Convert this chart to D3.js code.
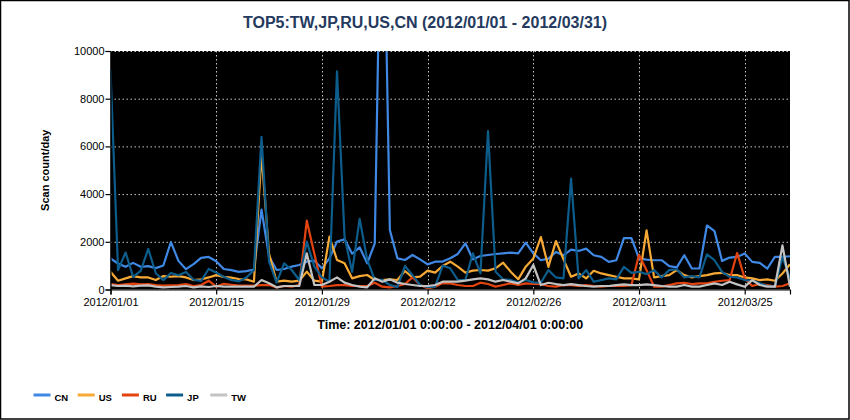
<!DOCTYPE html>
<html>
<head>
<meta charset="utf-8">
<script src="https://d3js.org/d3.v7.min.js"></script>
<style>
  body { margin: 0; background: #fff; }
  text { font-family: "Liberation Sans", Arial, sans-serif; }
</style>
</head>
<body>
<script>
// countries, in legend order
var countries = ["CN", "US", "RU", "JP", "TW"];
var colors = ["#3f88e3", "#f7a935", "#e2430f", "#0c5c8c", "#c3c3c3"];

// one value per day, 2012/01/01 .. 2012/03/31
var cnValues = [1300, 1090, 950, 1116, 950, 978, 895, 1005, 1990, 1200,
  853, 1061, 1325, 1366, 1186, 860, 811, 742, 770, 839,
  3350, 1377, 818, 860, 958, 1027, 1167, 1209, 888, 1307,
  2006, 2104, 1500, 1768, 1097, 1936, 20000, 2495, 1307, 1237,
  1447, 1265, 1055, 1167, 1170, 1307, 1489, 1936, 1265, 1405,
  1447, 1489, 1517, 1545, 1517, 1964, 1517, 1227, 1297, 1574,
  1435, 1671, 1616, 1713, 1435, 1366, 1158, 1227, 2157, 2157,
  1297, 1255, 1227, 1227, 978, 930, 1435, 880, 880, 2684,
  2448, 1200, 1338, 1366, 1505, 1158, 1116, 880, 1366, 1366, 1394];

var usValues = [742, 368, 465, 562, 506, 506, 395, 562, 534, 562,
  506, 395, 423, 506, 603, 530, 500, 440, 423, 326,
  5700, 1500, 328, 370, 328, 370, 748, 370, 328, 2215,
  1237, 1097, 468, 563, 608, 398, 398, 426, 398, 776,
  510, 538, 790, 706, 990, 1167, 958, 706, 790, 818,
  790, 888, 1125, 748, 426, 958, 1300, 2198, 950, 2032,
  1260, 534, 673, 465, 784, 673, 603, 534, 465, 465,
  423, 2476, 506, 562, 603, 811, 603, 506, 562, 603,
  673, 700, 603, 603, 506, 465, 395, 423, 368, 673, 1061];

var ruValues = [229, 187, 215, 243, 215, 229, 187, 160, 173, 187,
  229, 146, 187, 368, 118, 240, 200, 160, 160, 160,
  187, 187, 91, 147, 120, 189, 2887, 1500, 118, 146,
  187, 187, 146, 147, 147, 287, 119, 91, 147, 230,
  510, 189, 49, 119, 270, 259, 189, 147, 147, 287,
  230, 119, 189, 259, 189, 259, 230, 229, 146, 118,
  187, 187, 146, 187, 146, 118, 146, 160, 146, 187,
  1460, 811, 118, 118, 187, 257, 284, 229, 257, 257,
  326, 368, 395, 1533, 465, 146, 229, 187, 118, 146, 257];

var jpValues = [9200, 811, 1550, 530, 780, 1700, 680, 395, 690, 600,
  730, 410, 360, 860, 710, 530, 398, 340, 506, 811,
  6400, 1167, 287, 1097, 818, 398, 2006, 958, 510, 328,
  9150, 2200, 742, 2960, 1250, 400, 400, 190, 100, 985,
  600, 190, 100, 120, 1000, 888, 398, 398, 1517, 678,
  6640, 748, 426, 400, 287, 400, 300, 284, 811, 506,
  465, 4650, 465, 811, 326, 395, 465, 423, 950, 700,
  742, 645, 811, 506, 811, 850, 506, 562, 506, 1477,
  1227, 742, 534, 506, 395, 368, 257, 146, 118, 1366, 465];

var twValues = [187, 146, 160, 132, 160, 173, 118, 90, 104, 118,
  146, 90, 132, 104, 146, 118, 118, 118, 118, 118,
  398, 259, 91, 147, 147, 147, 1517, 189, 189, 328,
  510, 287, 189, 119, 91, 468, 328, 426, 287, 230,
  189, 147, 147, 189, 328, 328, 328, 370, 426, 468,
  426, 328, 398, 328, 259, 468, 1027, 187, 284, 229,
  187, 229, 187, 146, 118, 146, 146, 187, 215, 187,
  187, 215, 187, 146, 118, 118, 187, 118, 118, 187,
  257, 187, 326, 215, 118, 395, 187, 118, 118, 1852, 118];

var seriesValues = [cnValues, usValues, ruValues, jpValues, twValues];

var yTicks = [0, 2000, 4000, 6000, 8000, 10000];
var xTickLabels = ["2012/01/01", "2012/01/15", "2012/01/29", "2012/02/12",
  "2012/02/26", "2012/03/11", "2012/03/25"];

var titleText = "TOP5:TW,JP,RU,US,CN (2012/01/01 - 2012/03/31)";
var xTitle = "Time: 2012/01/01 0:00:00 - 2012/04/01 0:00:00";
var yTitle = "Scan count/day";

// ----------------------------------------------------------- //

var width = 850, height = 420;
var margin = {left: 110.5, right: 60, top: 51, bottom: 130.5};

var parseDay = d3.timeParse("%Y/%m/%d");
var startDay = parseDay("2012/01/01");
var days = cnValues.map((v, i) => d3.timeDay.offset(startDay, i));

var svg = d3.select("body").append("svg")
    .attr("width", width)
    .attr("height", height);

// outer frame
svg.append("rect")
    .attr("x", 0.5).attr("y", 0.5)
    .attr("width", width - 1.5).attr("height", height - 1.5)
    .attr("fill", "#fff")
    .attr("stroke", "#000")
    .attr("stroke-width", 1.5);

var xScale = d3.scaleTime()
    .domain([startDay, parseDay("2012/03/31")])
    .range([margin.left, width - margin.right]);

var yScale = d3.scaleLinear()
    .domain([0, 10000])
    .range([height - margin.bottom, margin.top]);

var x0 = xScale.range()[0], x1 = xScale.range()[1];
var y0 = yScale.range()[0], y1 = yScale.range()[1];

// black plot area
svg.append("rect")
    .attr("x", x0).attr("y", y1)
    .attr("width", x1 - x0).attr("height", y0 - y1)
    .attr("fill", "#000");

svg.append("clipPath").attr("id", "plotClip")
  .append("rect")
    .attr("x", x0).attr("y", y1)
    .attr("width", x1 - x0).attr("height", y0 - y1);

var xTickDates = xTickLabels.map(parseDay);

// dotted grid
var grid = svg.append("g")
    .attr("stroke", "#c8c8c8")
    .attr("stroke-width", 1)
    .attr("stroke-dasharray", "1.5,2.5");

grid.selectAll("line.h").data(yTicks.slice(1)).enter().append("line")
    .attr("class", "h")
    .attr("x1", x0).attr("x2", x1)
    .attr("y1", d => yScale(d) + 0.5).attr("y2", d => yScale(d) + 0.5);

grid.selectAll("line.v").data(xTickDates.slice(1)).enter().append("line")
    .attr("class", "v")
    .attr("x1", d => Math.round(xScale(d)) + 0.5).attr("x2", d => Math.round(xScale(d)) + 0.5)
    .attr("y1", y1).attr("y2", y0);

// lines
var line = d3.line()
    .x((d, i) => xScale(days[i]))
    .y(d => yScale(d));

svg.append("g")
    .attr("clip-path", "url(#plotClip)")
  .selectAll("path").data(seriesValues).enter().append("path")
    .attr("d", d => line(d))
    .attr("fill", "none")
    .attr("stroke", (d, i) => colors[i])
    .attr("stroke-width", 2.2)
    .attr("stroke-linejoin", "round");

// axes
var xAxis = svg.append("g")
    .attr("transform", `translate(0,${y0})`)
    .call(d3.axisBottom(xScale)
      .tickValues(xTickDates)
      .tickFormat(d3.timeFormat("%Y/%m/%d"))
      .tickSizeOuter(0)
      .tickSize(5));

var yAxis = svg.append("g")
    .attr("transform", `translate(${x0},0)`)
    .call(d3.axisLeft(yScale)
      .tickValues(yTicks)
      .tickFormat(d3.format("d"))
      .tickSizeOuter(0)
      .tickSize(5));

[xAxis, yAxis].forEach(function(ax) {
  ax.select(".domain").attr("stroke", "#000").attr("stroke-width", 1.2);
  ax.selectAll(".tick line").attr("stroke", "#000").attr("stroke-width", 1.2);
  ax.selectAll(".tick text")
    .attr("fill", "#000")
    .style("font-family", "'Liberation Sans', Arial, sans-serif")
    .style("font-size", "11px");
});
xAxis.selectAll(".tick text").attr("dy", "0.95em").attr("y", 6);
yAxis.selectAll(".tick text").attr("x", -6);

// title
svg.append("text")
    .attr("x", width / 2)
    .attr("y", 28)
    .attr("text-anchor", "middle")
    .attr("fill", "#243a5e")
    .style("font-size", "16px")
    .style("font-weight", "bold")
    .text(titleText);

// axis titles
svg.append("text")
    .attr("x", (x0 + x1) / 2)
    .attr("y", 329)
    .attr("text-anchor", "middle")
    .attr("fill", "#000")
    .style("font-size", "12.5px")
    .style("font-weight", "bold")
    .text(xTitle);

svg.append("text")
    .attr("transform", `translate(49,${(y0 + y1) / 2}) rotate(-90)`)
    .attr("text-anchor", "middle")
    .attr("fill", "#000")
    .style("font-size", "11px")
    .style("font-weight", "bold")
    .text(yTitle);

// legend
var legend = svg.append("g")
  .selectAll("g").data(countries).enter().append("g")
    .attr("transform", (d, i) => `translate(${33.5 + i * 44.2},395)`);

legend.append("line")
    .attr("x1", 0).attr("x2", 17)
    .attr("stroke", (d, i) => colors[i])
    .attr("stroke-width", 3);

legend.append("text")
    .attr("x", 21)
    .attr("y", 6)
    .attr("fill", "#000")
    .style("font-size", "9.5px")
    .style("font-weight", "bold")
    .text(d => d);
</script>
</body>
</html>
